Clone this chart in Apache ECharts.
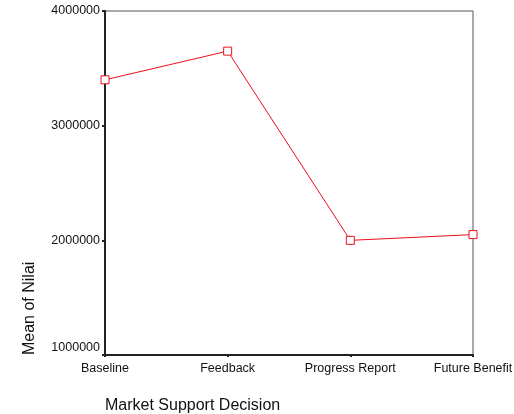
<!DOCTYPE html>
<html>
<head>
<meta charset="utf-8">
<script src="https://cdn.jsdelivr.net/npm/echarts@6/dist/echarts.min.js"></script>
<style>
  html, body { margin: 0; padding: 0; background: #fff; }
  #main { width: 514px; height: 414px; }
</style>
</head>
<body>
<div id="main"></div>
<script>
// categories on the x axis
const categories = ["Baseline", "Feedback", "Progress Report", "Future Benefit"];
// mean of Nilai per category
const meanValues = [3400000, 3650000, 2000000, 2050000];
// y axis range
const yMin = 1000000;
const yMax = 4000000;
const yStep = 1000000;

var myChart = echarts.init(document.getElementById("main"));
const font = "Liberation Sans, Arial, sans-serif";

const option = {
  backgroundColor: "#fff",
  animation: false,
  grid: {
    left: 105,
    right: 41,
    top: 11,
    bottom: 59,
    outerBoundsMode: "none",
    containLabel: false,
    show: true,
    borderColor: "#555",
    borderWidth: 1,
  },
  xAxis: {
    type: "category",
    data: categories,
    boundaryGap: false,
    axisLine: { lineStyle: { color: "#222", width: 2 } },
    axisTick: { show: true, length: 2, lineStyle: { color: "#222", width: 2 }, alignWithLabel: true },
    axisLabel: { color: "#111", fontSize: 12.5, fontFamily: font, margin: 7, interval: 0 },
    splitLine: { show: false },
  },
  yAxis: {
    type: "value",
    min: yMin,
    max: yMax,
    interval: yStep,
    axisLine: { show: true, lineStyle: { color: "#222", width: 2 } },
    axisTick: { show: true, length: 3, lineStyle: { color: "#222", width: 2 } },
    axisLabel: {
      color: "#111",
      fontSize: 12.5,
      fontFamily: font,
      margin: 5,
      formatter: (v) => (v === yMin ? "{b|" + v + "}" : String(v)),
      rich: { b: { fontSize: 12.5, fontFamily: font, color: "#111", padding: [0, 0, 14, 0] } },
    },
    splitLine: { show: false },
  },
  graphic: [
    {
      type: "text",
      x: 30,
      y: 355,
      rotation: Math.PI / 2,
      style: {
        text: "Mean of Nilai",
        fontSize: 16,
        fontFamily: font,
        fill: "#111",
        textAlign: "left",
        textVerticalAlign: "middle",
      },
    },
    {
      type: "text",
      x: 105,
      y: 406,
      style: {
        text: "Market Support Decision",
        fontSize: 16,
        fontFamily: font,
        fill: "#111",
        textAlign: "left",
        textVerticalAlign: "middle",
      },
    },
  ],
  series: [
    {
      name: "Mean of Nilai",
      type: "line",
      data: meanValues,
      symbol: "rect",
      symbolSize: 8,
      showSymbol: true,
      itemStyle: { color: "#fff", borderColor: "#e8101a", borderWidth: 1 },
      lineStyle: { color: "#e8101a", width: 1 },
      z: 5,
    },
  ],
};

myChart.setOption(option);
</script>
</body>
</html>
